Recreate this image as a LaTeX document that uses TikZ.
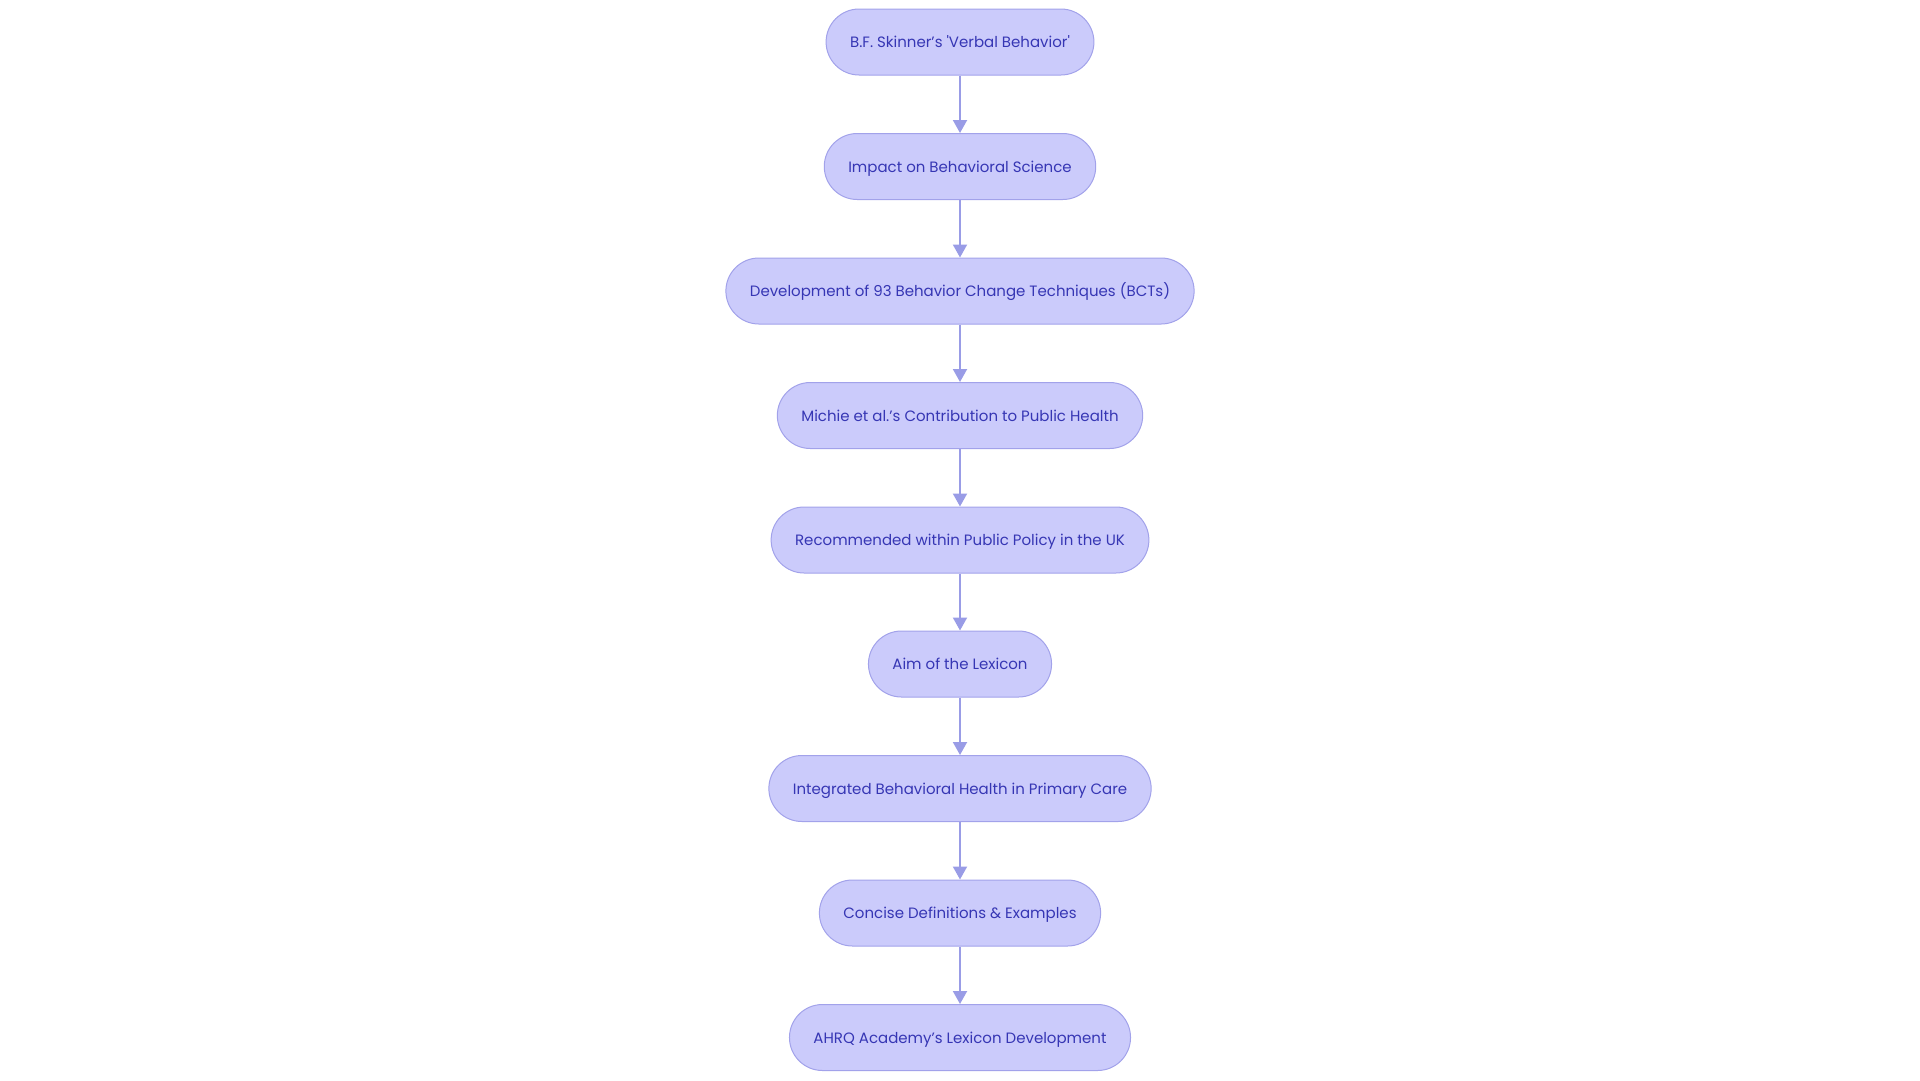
\documentclass[tikz,border=0pt]{standalone}
\usepackage{fontspec}
\setmainfont{Poppins}
\usepackage{xcolor}
\usetikzlibrary{positioning, arrows.meta}
\definecolor{lxFill}{HTML}{CBCBFB}
\definecolor{lxLine}{HTML}{A2A2EA}
\definecolor{lxText}{HTML}{3636B4}
\definecolor{lxArrow}{HTML}{999CE6}
\tikzset{
  pill/.style={
    rectangle, rounded corners=33pt,
    draw=lxLine, line width=1pt,
    fill=lxFill,
    inner xsep=24pt, inner ysep=0pt,
    minimum height=66pt,
    text height=14pt, text depth=3pt,
    font=\fontsize{15}{17}\selectfont, text=lxText
  },
  flow/.style={
    -{Triangle[length=13pt, width=14pt]},
    lxArrow, line width=2pt
  }
}
\begin{document}
\begin{tikzpicture}[x=1pt, y=-1pt]
  \useasboundingbox (0,0) rectangle (1920,1080);
  % Chain of steps, top to bottom
  \node[pill] (skinner) at (960, 42) {B.F. Skinner's \textquotesingle Verbal Behavior\textquotesingle};
  \node[pill] (impact) at (960, 166.5) {Impact on Behavioral Science};
  \node[pill] (bcts) at (960, 291) {Development of 93 Behavior Change Techniques (BCTs)};
  \node[pill] (michie) at (960, 415.5) {Michie et al.'s Contribution to Public Health};
  \node[pill] (policy) at (960, 540) {Recommended within Public Policy in the UK};
  \node[pill] (aim) at (960, 664) {Aim of the Lexicon};
  \node[pill] (ibh) at (960, 788.5) {Integrated Behavioral Health in Primary Care};
  \node[pill] (defs) at (960, 913) {Concise Definitions \& Examples};
  \node[pill] (ahrq) at (960, 1037.5) {AHRQ Academy's Lexicon Development};
  % Connectors
  \draw[flow] (skinner) -- (impact);
  \draw[flow] (impact) -- (bcts);
  \draw[flow] (bcts) -- (michie);
  \draw[flow] (michie) -- (policy);
  \draw[flow] (policy) -- (aim);
  \draw[flow] (aim) -- (ibh);
  \draw[flow] (ibh) -- (defs);
  \draw[flow] (defs) -- (ahrq);
\end{tikzpicture}
\end{document}
